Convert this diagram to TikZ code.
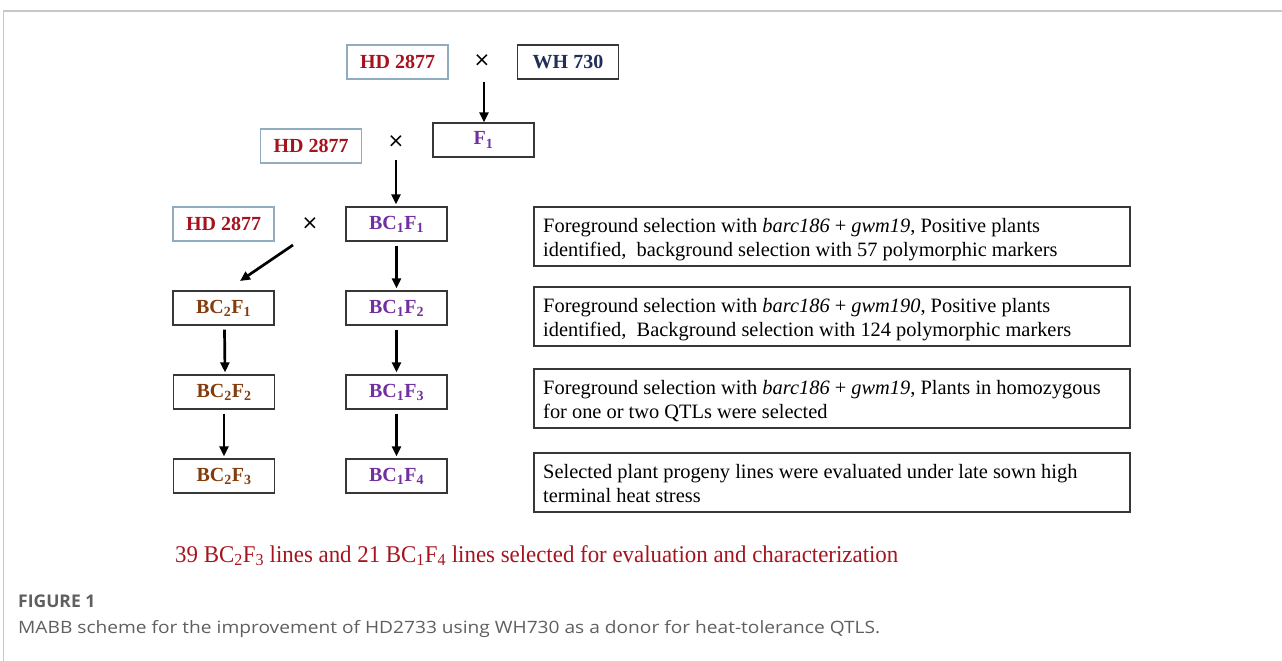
\documentclass[tikz,border=0pt]{standalone}
\usepackage{fontspec}
\setmainfont{Liberation Serif}
\newfontfamily\capfont{Open Sans}
\newfontfamily\crossfont{DejaVu Sans}
\usetikzlibrary{arrows.meta}
\definecolor{hdred}{RGB}{165,20,30}
\definecolor{navy}{RGB}{31,46,90}
\definecolor{purp}{RGB}{112,48,160}
\definecolor{brwn}{RGB}{133,60,12}
\definecolor{hdborder}{RGB}{145,172,190}
\definecolor{boxborder}{RGB}{55,55,55}
\definecolor{capgray}{RGB}{95,95,95}
\definecolor{framegray}{RGB}{200,200,200}
\tikzset{
  gbox/.style={draw=boxborder, line width=1.2pt, minimum width=101pt, minimum height=34pt, inner sep=0pt, font=\fontsize{20}{24}\selectfont\bfseries},
  hdbox/.style={gbox, draw=hdborder, text=hdred},
  txtbox/.style={draw=boxborder, line width=1.2pt, minimum width=596pt, minimum height=59pt, inner sep=0pt},
  txt/.style={anchor=base west, inner sep=0pt, font=\fontsize{20.4}{24}\selectfont},
  cross/.style={inner sep=0pt, font=\crossfont\fontsize{20}{24}\selectfont},
  arr/.style={line width=2.7pt, -{Triangle[length=10pt,width=9pt]}},
}
\begin{document}
\begin{tikzpicture}[x=1pt,y=-1pt]
\useasboundingbox (0,0) rectangle (1282,661);
% frame
\draw[framegray, line width=1.2pt] (1282,11) -- (3.5,11) -- (3.5,661);
% boxes
\node[hdbox] (hd1) at (397.5,62) {HD 2877};
\node[cross] (x1) at (482,61) {×};
\node[gbox, text=navy] (wh) at (568,62) {WH 730};
\node[gbox, text=purp] (f1) at (483.5,140) {F\textsubscript{1}};
\node[hdbox] (hd2) at (311,146) {HD 2877};
\node[cross] (x2) at (396,142) {×};
\node[hdbox] (hd3) at (223.5,224) {HD 2877};
\node[cross] (x3) at (310,224) {×};
\node[gbox, text=purp] (bc11) at (396.5,224) {BC\textsubscript{1}F\textsubscript{1}};
\node[gbox, text=brwn] (bc21) at (223.5,308) {BC\textsubscript{2}F\textsubscript{1}};
\node[gbox, text=purp] (bc12) at (396.5,308) {BC\textsubscript{1}F\textsubscript{2}};
\node[gbox, text=brwn] (bc22) at (224,392) {BC\textsubscript{2}F\textsubscript{2}};
\node[gbox, text=purp] (bc13) at (396.5,392) {BC\textsubscript{1}F\textsubscript{3}};
\node[gbox, text=brwn] (bc23) at (224,476) {BC\textsubscript{2}F\textsubscript{3}};
\node[gbox, text=purp] (bc14) at (396.5,476) {BC\textsubscript{1}F\textsubscript{4}};
% arrows
\coordinate (a1s) at (484,82);
\coordinate (a2s) at (396,160);
\coordinate (a3s) at (293,245);
\coordinate (a3e) at (240,281);
\draw[arr] (a1s) -- (a1s |- f1.north);
\draw[arr] (a2s) -- ([yshift=2pt]a2s |- bc11.north);
\draw[arr] (a3s) -- (a3e);
\draw[arr] ([yshift=-4pt]bc11.south) -- ([yshift=2pt]bc12.north);
\draw[arr] ([yshift=-4pt]bc12.south) -- ([yshift=2pt]bc13.north);
\draw[arr] ([yshift=-4pt]bc13.south) -- ([yshift=2pt]bc14.north);
\draw[arr] ([yshift=-4pt,xshift=1pt]bc21.south) -- ([yshift=2pt,xshift=1pt]bc22.north);
\draw[arr] ([yshift=-4pt]bc22.south) -- ([yshift=2pt]bc23.north);
% text boxes
\node[txtbox] (t1) at (832,236.5) {};
\node[txtbox] (t2) at (832,316.5) {};
\node[txtbox] (t3) at (832,398.5) {};
\node[txtbox] (t4) at (832,482.5) {};
\node[txt] (t1a) at (543,232) {Foreground selection with \textit{barc186} + \textit{gwm19}, Positive plants};
\node[txt] (t1b) at (543,256) {identified,\ \ background selection with 57 polymorphic markers};
\node[txt] (t2a) at (543,312) {Foreground selection with \textit{barc186} + \textit{gwm190}, Positive plants};
\node[txt] (t2b) at (543,336) {identified,\ \ Background selection with 124 polymorphic markers};
\node[txt] (t3a) at (543,394) {Foreground selection with \textit{barc186} + \textit{gwm19}, Plants in homozygous};
\node[txt] (t3b) at (543,418) {for one or two QTLs were selected};
\node[txt] (t4a) at (543,478) {Selected plant progeny lines were evaluated under late sown high};
\node[txt] (t4b) at (543,502) {terminal heat stress};
% bottom text
\node[anchor=base west, inner sep=0pt, text=hdred, font=\fontsize{24}{28}\selectfont] (bottom) at (175,562)
  {\resizebox{723pt}{\height}{39 BC\textsubscript{2}F\textsubscript{3} lines and 21 BC\textsubscript{1}F\textsubscript{4} lines selected for evaluation and characterization}};
% caption
\node[anchor=base west, inner sep=0pt, text=capgray, font=\capfont\bfseries\fontsize{17.5}{20}\selectfont] (fig) at (18,607) {FIGURE 1};
\node[anchor=base west, inner sep=0pt, text=capgray, font=\capfont\fontsize{17}{20}\selectfont] (cap) at (18,633)
  {\resizebox{862pt}{\height}{MABB scheme for the improvement of HD2733 using WH730 as a donor for heat-tolerance QTLS.}};
\end{tikzpicture}
\end{document}
